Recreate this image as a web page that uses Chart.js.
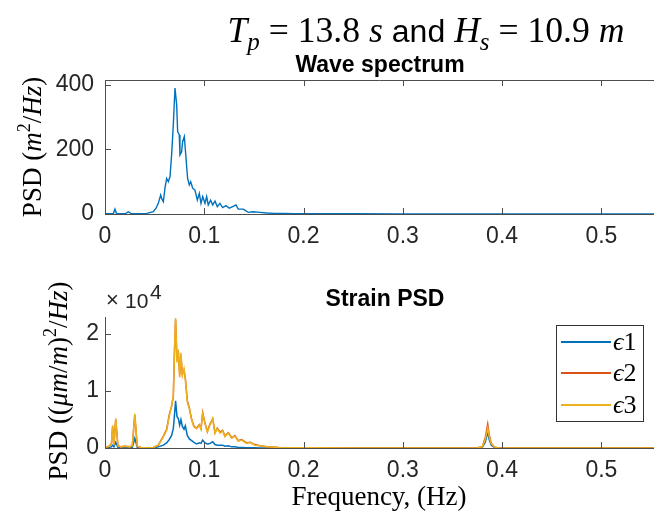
<!DOCTYPE html>
<html>
<head>
<meta charset="utf-8">
<script src="https://cdn.jsdelivr.net/npm/chart.js@4"></script>
<style>
  html, body { margin: 0; padding: 0; background: #fff; }
  #wrap { position: relative; width: 654px; height: 517px; overflow: hidden; }
  canvas { position: absolute; left: 0; top: 0; }
</style>
</head>
<body>
<div id="wrap">
  <canvas id="wave" width="654" height="517"></canvas>
  <canvas id="strain" width="654" height="517"></canvas>
</div>
<script>
// wave spectrum (m^2/Hz) vs frequency (Hz)
const freqWave = [0, 0.006, 0.0085, 0.010, 0.0115, 0.014, 0.018, 0.021, 0.0235, 0.026, 0.03, 0.036, 0.042,
  0.0487, 0.0514, 0.0537, 0.0561, 0.0575, 0.0588, 0.0604, 0.0621, 0.0638, 0.0655, 0.0671, 0.0688, 0.0705,
  0.0722, 0.0732, 0.0748, 0.0755, 0.0772, 0.0782, 0.0799, 0.0816, 0.0832, 0.0849, 0.0863, 0.0883, 0.0906,
  0.093, 0.095, 0.0967, 0.0984, 0.1007, 0.1024, 0.104, 0.1064, 0.1085, 0.1108, 0.1131, 0.1158, 0.1185,
  0.1219, 0.1252, 0.1286, 0.132, 0.1342, 0.1393, 0.1443, 0.1493, 0.156, 0.163, 0.17, 0.18, 0.19, 0.2,
  0.22, 0.25, 0.3, 0.35, 0.4, 0.45, 0.5, 0.553];
const psdWave = [1, 1, 2, 15, 2, 1, 1, 2, 7, 2, 1, 1, 2,
  7, 18, 33, 59, 45, 38, 80, 110, 100, 116, 183, 276, 390,
  338, 255, 245, 183, 193, 224, 240, 173, 110, 90, 100, 80, 74,
  43, 64, 33, 54, 33, 54, 28, 43, 28, 40, 23, 33, 20,
  26, 18, 23, 28, 15, 15, 5, 7, 5, 3, 2, 2, 1, 1,
  1, 1, 0.5, 0.5, 0.5, 0.5, 0.5, 0.5];

// strain PSD ((um/m)^2/Hz)
const freqStrain = [0, 0.004, 0.0065, 0.0077, 0.009, 0.0108, 0.013, 0.016, 0.02, 0.025, 0.0275, 0.030,
  0.0325, 0.036, 0.042, 0.0487, 0.0537, 0.0588, 0.0621, 0.0648, 0.0671, 0.0688, 0.0701, 0.0711, 0.0725,
  0.0738, 0.0752, 0.0765, 0.0779, 0.0796, 0.0809, 0.0829, 0.0849, 0.0873, 0.0896, 0.0923, 0.095, 0.0967,
  0.0984, 0.1007, 0.1031, 0.1057, 0.1085, 0.1108, 0.1131, 0.1158, 0.1185, 0.1208, 0.1242, 0.1276, 0.1309,
  0.1342, 0.1376, 0.1427, 0.146, 0.151, 0.156, 0.163, 0.175, 0.19, 0.21, 0.25, 0.3, 0.35, 0.375, 0.38,
  0.383, 0.3855, 0.387, 0.389, 0.392, 0.395, 0.41, 0.45, 0.5, 0.553];
const eps1 = [50, 100, 200, 500, 200, 1000, 100, 50, 100, 50, 100, 1700,
  100, 30, 20, 50, 200, 500, 900, 1500, 2200, 3400, 6000, 8300, 5500,
  5200, 4000, 5000, 3800, 3300, 3900, 2200, 1600, 1300, 1000, 700, 900, 800,
  1400, 900, 700, 800, 1100, 600, 500, 500, 500, 300, 400, 200, 200,
  100, 100, 50, 50, 30, 20, 10, 10, 10, 10, 10, 10, 10, 10, 100,
  1000, 2800, 1500, 500, 100, 20, 10, 10, 10, 10];
const eps2 = [100, 300, 700, 3800, 500, 5000, 400, 200, 300, 200, 400, 5800,
  300, 100, 50, 100, 500, 2100, 3300, 5900, 7300, 9000, 17500, 22500, 15400,
  17000, 12800, 16200, 13000, 13600, 12300, 8300, 7100, 5000, 3800, 3500, 4100, 3400,
  6200, 4400, 2900, 4200, 5100, 2700, 3500, 2800, 3100, 2100, 2700, 1800, 2200,
  1300, 1500, 900, 1000, 600, 400, 200, 100, 50, 30, 20, 20, 20, 50, 200,
  1800, 4200, 2300, 900, 200, 50, 20, 20, 20, 20];
const eps3 = [100, 300, 800, 4000, 500, 5200, 400, 200, 300, 200, 400, 6000,
  300, 100, 50, 100, 500, 2000, 3100, 5700, 7500, 9200, 17900, 22800, 15000,
  17300, 12400, 16700, 12700, 13900, 12100, 8100, 6900, 4900, 3700, 3400, 4000, 3300,
  6000, 4300, 2800, 4000, 5200, 2600, 3400, 2600, 3000, 2000, 2600, 1700, 2100,
  1200, 1400, 800, 1000, 500, 400, 200, 100, 50, 30, 20, 20, 20, 50, 200,
  1500, 3500, 2000, 800, 200, 50, 20, 20, 20, 20];
const strainLabels = ['ϵ1', 'ϵ2', 'ϵ3'];
const strainColors = ['#0072BD', '#D95319', '#EDB120'];

const waveTicks = [0, 200, 400];
const strainTicks = [0, 10000, 20000];

const axisColor = '#4d4d4d';
const tickFont = { family: 'Liberation Sans, Arial', size: 23 };
const serif = 'Liberation Serif, Times New Roman, serif';

function pts(xs, ys) {
  return xs.map((x, i) => ({ x: x, y: ys[i] }));
}

// draw a row of text pieces (text, font, dy) centred on (x, y), optionally rotated
function drawRich(ctx, parts, x, y, angle) {
  ctx.save();
  ctx.translate(x, y);
  ctx.rotate(angle || 0);
  ctx.textAlign = 'left';
  ctx.textBaseline = 'alphabetic';
  ctx.fillStyle = '#000';
  let total = 0;
  parts.forEach(p => { ctx.font = p[1]; total += ctx.measureText(p[0]).width; });
  let cx = -total / 2;
  parts.forEach(p => {
    ctx.font = p[1];
    ctx.fillText(p[0], cx, p[2] || 0);
    cx += ctx.measureText(p[0]).width;
  });
  ctx.restore();
  return total;
}

function titleParts(b) {
  const it = 'italic ' + b + 'px ' + serif;
  const up = b + 'px ' + serif;
  const sub = 'italic ' + (b * 0.7) + 'px ' + serif;
  const sans = (b * 0.9) + 'px Liberation Sans, Arial';
  return [['T', it], ['p', sub, b * 0.22], [' = 13.8 ', up], ['s', it], [' and ', sans],
    ['H', it], ['s', sub, b * 0.22], [' = 10.9 ', up], ['m', it]];
}

const inTicks = {
  id: 'inTicks',
  afterDatasetsDraw(chart, args, opts) {
    const { ctx, chartArea: a, scales: { x, y } } = chart;
    ctx.save();
    ctx.strokeStyle = axisColor;
    ctx.lineWidth = 1;
    ctx.beginPath();
    x.ticks.forEach(t => {
      const px = Math.round(x.getPixelForValue(t.value)) + 0.5;
      ctx.moveTo(px, a.bottom);
      ctx.lineTo(px, a.bottom - 6);
      if (opts.box) {
        ctx.moveTo(px, a.top);
        ctx.lineTo(px, a.top + 6);
      }
    });
    y.ticks.forEach(t => {
      const py = Math.round(y.getPixelForValue(t.value)) + 0.5;
      ctx.moveTo(a.left, py);
      ctx.lineTo(a.left + 6, py);
    });
    if (opts.box) {
      ctx.moveTo(a.left, a.top + 0.5);
      ctx.lineTo(a.right, a.top + 0.5);
    }
    ctx.stroke();
    ctx.restore();
  }
};

function axes(xTickPad, yTickPad, yMax, yTicks, yCallback) {
  return {
    x: {
      type: 'linear', min: 0, max: 0.553,
      afterFit: s => { s.height = 40; },
      grid: { display: false, drawTicks: false },
      border: { display: true, color: axisColor, width: 1 },
      ticks: { stepSize: 0.1, includeBounds: false, padding: xTickPad, color: '#262626', font: tickFont,
        maxRotation: 0, callback: v => String(Math.round(v * 10) / 10) }
    },
    y: {
      min: 0, max: yMax,
      afterFit: s => { s.width = 105; },
      afterBuildTicks: s => { s.ticks = yTicks.map(v => ({ value: v })); },
      grid: { display: false, drawTicks: false },
      border: { display: true, color: axisColor, width: 1 },
      ticks: { padding: yTickPad, color: '#262626', font: tickFont, callback: yCallback }
    }
  };
}

new Chart(document.getElementById('wave'), {
  type: 'line',
  data: {
    datasets: [{
      label: 'Wave spectrum',
      data: pts(freqWave, psdWave),
      borderColor: '#0072BD',
      borderWidth: 1.4,
      pointRadius: 0,
      tension: 0
    }]
  },
  options: {
    responsive: false,
    animation: false,
    layout: { autoPadding: false, padding: { top: 80, left: 0, right: 0, bottom: 517 - 214 - 40 } },
    plugins: { legend: { display: false }, tooltip: { enabled: false }, inTicks: { box: true } },
    scales: axes(9, 11, 415, waveTicks, v => String(v))
  },
  plugins: [inTicks, {
    id: 'waveText',
    afterDraw(chart) {
      const ctx = chart.ctx;
      // main title, sized to span about 397 px
      ctx.save();
      let w = 0;
      titleParts(40).forEach(p => { ctx.font = p[1]; w += ctx.measureText(p[0]).width; });
      ctx.restore();
      drawRich(ctx, titleParts(40 * 397 / w), 426, 42);
      // subplot title
      ctx.save();
      ctx.font = 'bold 23px Liberation Sans, Arial';
      ctx.fillStyle = '#000';
      ctx.textAlign = 'center';
      ctx.fillText('Wave spectrum', 380, 72);
      ctx.restore();
      // y label
      const f = '27px ' + serif, fi = 'italic 27px ' + serif, fs = '18px ' + serif;
      drawRich(ctx, [['PSD ', f], ['(', f], ['m', fi], ['2', fs, -11], ['/', f], ['Hz', fi], [')', f]],
        41, 147, -Math.PI / 2);
    }
  }]
});

new Chart(document.getElementById('strain'), {
  type: 'line',
  data: {
    datasets: [eps1, eps2, eps3].map((d, i) => ({
      label: strainLabels[i],
      data: pts(freqStrain, d),
      borderColor: strainColors[i],
      borderWidth: 1.5,
      pointRadius: 0,
      tension: 0,
      order: 3 - i
    }))
  },
  options: {
    responsive: false,
    animation: false,
    layout: { autoPadding: false, padding: { top: 317, left: 0, right: 0, bottom: 517 - 448 - 40 } },
    plugins: { legend: { display: false }, tooltip: { enabled: false }, inTicks: { box: false } },
    scales: axes(9, 6, 23000, strainTicks, v => String(v / 10000))
  },
  plugins: [inTicks, {
    id: 'strainText',
    afterDraw(chart) {
      const ctx = chart.ctx;
      ctx.save();
      ctx.fillStyle = '#000';
      ctx.textAlign = 'center';
      ctx.font = 'bold 23px Liberation Sans, Arial';
      ctx.fillText('Strain PSD', 385, 306);
      // exponent
      ctx.textAlign = 'left';
      ctx.fillStyle = '#262626';
      ctx.font = '22px Liberation Sans, Arial';
      ctx.fillText('×', 106, 307);
      ctx.font = '21px Liberation Sans, Arial';
      ctx.fillText('10', 125, 308);
      ctx.fillText('4', 150, 299);
      ctx.restore();

      const f = '27px ' + serif, fi = 'italic 27px ' + serif, fs = '18px ' + serif;
      drawRich(ctx, [['PSD ', f], ['((', f], ['μm', fi], ['/', f], ['m', fi], [')', f], ['2', fs, -11],
        ['/', f], ['Hz', fi], [')', f]], 67, 381, -Math.PI / 2);
      drawRich(ctx, [['Frequency, (Hz)', f]], 379, 505);

      // legend box
      const box = { l: 556, t: 325, r: 643, b: 421 };
      ctx.save();
      ctx.fillStyle = '#fff';
      ctx.fillRect(box.l, box.t, box.r - box.l, box.b - box.t);
      ctx.strokeStyle = '#333';
      ctx.lineWidth = 1;
      ctx.strokeRect(box.l + 0.5, box.t + 0.5, box.r - box.l, box.b - box.t);
      chart.data.datasets.forEach((ds, i) => {
        const yy = [342, 373, 405][i];
        ctx.strokeStyle = strainColors[i];
        ctx.lineWidth = 2;
        ctx.beginPath();
        ctx.moveTo(561, yy);
        ctx.lineTo(611, yy);
        ctx.stroke();
        ctx.fillStyle = '#000';
        ctx.textBaseline = 'middle';
        ctx.font = 'italic 26px ' + serif;
        ctx.fillText(ds.label.charAt(0), 613, yy + 1);
        const w = ctx.measureText(ds.label.charAt(0)).width;
        ctx.font = '26px ' + serif;
        ctx.fillText(ds.label.slice(1), 613 + w, yy + 1);
      });
      ctx.restore();
    }
  }]
});
</script>
</body>
</html>
